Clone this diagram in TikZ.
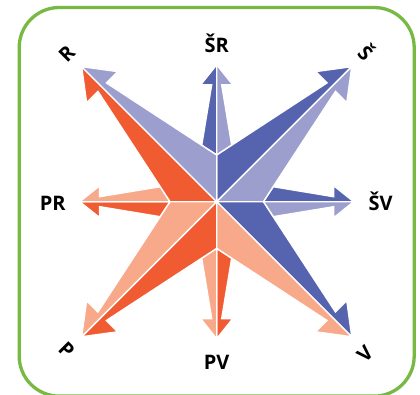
\documentclass[tikz,border=0pt]{standalone}
\usepackage{fontspec}
\setmainfont{Open Sans}
\definecolor{dkblue}{RGB}{86,100,175}
\definecolor{ltblue}{RGB}{156,158,206}
\definecolor{dkorange}{RGB}{241,91,49}
\definecolor{ltorange}{RGB}{248,169,138}
\definecolor{frame}{RGB}{120,185,68}
\begin{document}
\begin{tikzpicture}[x=1pt,y=1pt,
  piece/.style={draw=white, line width=1.4pt, line join=miter},
  lbl/.style={font=\bfseries\fontsize{20}{20}\selectfont, inner sep=0pt}]
\useasboundingbox (-216.7,-192.3) rectangle (203.3,201.7);

% rounded frame
\draw[frame, line width=3.3pt, rounded corners=40pt]
  (-197.5,-194.4) rectangle (197.5,194.2);

% short arrows along the axes (drawn first, behind the diagonals)
\foreach \ang/\cp/\cm in {0/dkblue/ltblue, 90/dkblue/ltblue,
                          180/dkorange/ltorange, 270/dkorange/ltorange}{
  \begin{scope}[rotate=\ang]
    \fill[piece, fill=\cp] (137,0) -- (117,16) -- (117,5) -- (56.5,15) -- (46.7,0) -- cycle;
    \fill[piece, fill=\cm] (137,0) -- (117,-16) -- (117,-5) -- (56.5,-15) -- (46.7,0) -- cycle;
  \end{scope}
}

% long diagonal arrows
\foreach \ang/\cp/\cm in {45/dkblue/ltblue, 135/dkorange/ltblue,
                          225/dkorange/ltorange, 315/dkblue/ltorange}{
  \begin{scope}[rotate=\ang]
    \fill[piece, fill=\cp] (0,0) -- (191,0) -- (162,22) -- (162,6) -- (33,33) -- cycle;
    \fill[piece, fill=\cm] (0,0) -- (191,0) -- (162,-22) -- (162,-6) -- (33,-33) -- cycle;
  \end{scope}
}

% direction labels
\node[lbl, anchor=base] (sr) at (0,149.4) {ŠR};
\node[lbl, anchor=base] (pv) at (0,-167.8) {PV};
\node[lbl, anchor=base] (pr) at (-164,-9.2) {PR};
\node[lbl, anchor=base] (sv) at (164,-9.2) {ŠV};
\node[lbl, rotate=45]  (r)  at (-150,148.4) {R};
\node[lbl, rotate=-45] (s)  at (150,150) {Š};
\node[lbl, rotate=-45] (p)  at (-150,-148.3) {P};
\node[lbl, rotate=45]  (v)  at (148.3,-152.3) {V};
\end{tikzpicture}
\end{document}
